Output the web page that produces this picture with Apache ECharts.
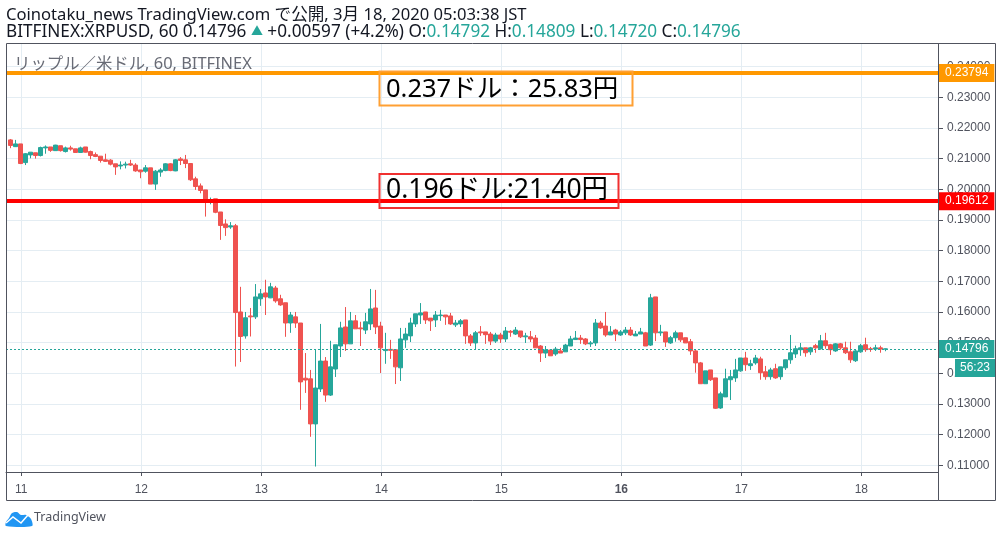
<!DOCTYPE html>
<html><head><meta charset="utf-8">
<script src="https://cdn.jsdelivr.net/npm/echarts@6/dist/echarts.min.js"></script>
<style>html,body{margin:0;padding:0;background:#fff}#c{width:1002px;height:537px}</style>
</head><body><div id="c"></div>
<script>
const opens=[.2161,.2139,.2148,.2087,.2112,.2119,.2110,.2135,.2138,.2126,
.2142,.2123,.2135,.2132,.2120,.2138,.2123,.2113,.2108,.2096,
.2095,.2083,.2076,.2079,.2083,.2079,.2063,.2059,.2070,.2017,
.2056,.2061,.2083,.2060,.2099,.2096,.2084,.2034,.2011,.1998,
.1958,.1969,.1926,.1887,.1877,.1881,.1600,.1522,.1587,.1584,
.1643,.1662,.1646,.1678,.1643,.1630,.1564,.1584,.1564,.1384,
.1382,.1235,.1349,.1440,.1329,.1414,.1489,.1551,.1496,.1571,
.1548,.1541,.1561,.1613,.1554,.1474,.1478,.1477,.1418,.1509,
.1522,.1561,.1590,.1600,.1580,.1574,.1588,.1590,.1587,.1558,
.1561,.1574,.1522,.1499,.1535,.1535,.1528,.1505,.1525,.1512,
.1537,.1528,.1538,.1519,.1519,.1515,.1489,.1466,.1476,.1463,
.1473,.1470,.1489,.1510,.1515,.1512,.1496,.1499,.1564,.1554,
.1525,.1541,.1525,.1532,.1541,.1522,.1528,.1532,.1492,.1649,
.1532,.1535,.1499,.1516,.1532,.1516,.1503,.1473,.1434,.1366,
.1411,.1385,.1287,.1323,.1379,.1385,.1408,.1450,.1425,.1434,
.1447,.1405,.1389,.1415,.1389,.1418,.1444,.1463,.1477,.1483,
.1470,.1490,.1480,.1506,.1493,.1473,.1496,.1483,.1470,.1441,
.1470,.1493,.1480,.1479,.1483,.14792];
const closes=[.2143,.2148,.2084,.2116,.2121,.2110,.2136,.2138,.2127,.2144,
.2126,.2135,.2131,.2120,.2135,.2121,.2110,.2107,.2094,.2091,
.2082,.2073,.2079,.2082,.2079,.2060,.2057,.2070,.2017,.2059,
.2063,.2083,.2061,.2096,.2094,.2084,.2031,.2009,.1996,.1961,
.1965,.1925,.1882,.1875,.1881,.1598,.1520,.1581,.1584,.1649,
.1659,.1649,.1682,.1636,.1623,.1564,.1590,.1564,.1372,.1378,
.1235,.1352,.1440,.1329,.1421,.1493,.1548,.1496,.1571,.1545,
.1545,.1568,.1610,.1551,.1483,.1477,.1475,.1421,.1512,.1528,
.1564,.1594,.1597,.1574,.1571,.1590,.1590,.1584,.1561,.1564,
.1571,.1522,.1499,.1532,.1532,.1526,.1505,.1525,.1512,.1538,
.1534,.1541,.1519,.1522,.1512,.1483,.1466,.1476,.1457,.1479,
.1466,.1492,.1512,.1515,.1510,.1496,.1499,.1564,.1548,.1525,
.1535,.1528,.1535,.1541,.1525,.1528,.1535,.1489,.1646,.1532,
.1535,.1502,.1516,.1532,.1509,.1499,.1473,.1434,.1366,.1408,
.1379,.1286,.1333,.1382,.1389,.1411,.1450,.1428,.1431,.1450,
.1402,.1389,.1411,.1385,.1421,.1444,.1467,.1480,.1483,.1467,
.1483,.1483,.1506,.1490,.1477,.1496,.1483,.1467,.1444,.1473,
.1490,.1477,.1478,.1483,.1479,.14796];
const lows=[.2134,.2138,.2082,.2079,.2101,.2100,.2107,.2116,.2122,.2125,
.2123,.2120,.2126,.2120,.2119,.2120,.2098,.2105,.2087,.2089,
.2078,.2047,.2065,.2068,.2076,.2057,.2036,.2054,.2017,.1998,
.2041,.2059,.2059,.2059,.2079,.2069,.2027,.1998,.1987,.1911,
.1951,.1922,.1835,.1848,.1871,.1422,.1437,.1513,.1520,.1577,
.1620,.1590,.1645,.1630,.1620,.1519,.1532,.1548,.1281,.1336,
.1193,.1096,.1339,.1307,.1326,.1388,.1453,.1473,.1496,.1545,
.1489,.1528,.1541,.1528,.1401,.1431,.1447,.1365,.1375,.1483,
.1502,.1551,.1561,.1561,.1538,.1551,.1571,.1558,.1558,.1551,
.1551,.1496,.1489,.1478,.1522,.1496,.1492,.1499,.1499,.1502,
.1519,.1525,.1515,.1499,.1502,.1483,.1437,.1450,.1457,.1457,
.1466,.1470,.1489,.1509,.1496,.1492,.1486,.1489,.1545,.1519,
.1525,.1505,.1522,.1525,.1522,.1522,.1528,.1489,.1489,.1505,
.1522,.1486,.1496,.1503,.1502,.1499,.1460,.1402,.1366,.1366,
.1375,.1284,.1284,.1323,.1313,.1372,.1405,.1408,.1411,.1428,
.1379,.1379,.1379,.1382,.1379,.1411,.1431,.1450,.1457,.1454,
.1460,.1467,.1477,.1480,.1460,.1470,.1477,.1463,.1434,.1437,
.1467,.1470,.1470,.1473,.1467,.14720];
const highs=[.2164,.2161,.2148,.2118,.2121,.2119,.2139,.2143,.2138,.2145,
.2142,.2139,.2142,.2132,.2139,.2138,.2126,.2120,.2108,.2116,
.2098,.2083,.2091,.2090,.2096,.2085,.2063,.2079,.2070,.2063,
.2069,.2085,.2085,.2098,.2105,.2112,.2085,.2041,.2019,.1998,
.1973,.1969,.1926,.1902,.1893,.1887,.1682,.1600,.1613,.1691,
.1675,.1705,.1695,.1685,.1656,.1630,.1600,.1600,.1564,.1466,
.1411,.1478,.1561,.1453,.1506,.1493,.1568,.1616,.1600,.1590,
.1568,.1597,.1675,.1672,.1568,.1532,.1509,.1477,.1548,.1548,
.1581,.1594,.1629,.1600,.1580,.1603,.1607,.1590,.1597,.1574,
.1577,.1574,.1528,.1538,.1554,.1535,.1535,.1532,.1532,.1551,
.1541,.1551,.1538,.1532,.1538,.1525,.1492,.1489,.1476,.1486,
.1483,.1496,.1522,.1538,.1525,.1515,.1505,.1577,.1571,.1600,
.1554,.1545,.1541,.1551,.1551,.1538,.1548,.1535,.1659,.1649,
.1558,.1535,.1522,.1539,.1532,.1516,.1512,.1477,.1437,.1408,
.1411,.1385,.1340,.1415,.1411,.1447,.1450,.1470,.1444,.1460,
.1454,.1424,.1418,.1431,.1421,.1444,.1525,.1490,.1499,.1483,
.1486,.1496,.1525,.1532,.1496,.1498,.1499,.1503,.1503,.1477,
.1496,.1516,.1486,.1493,.1490,.14809];
const dayLabels=['11','12','13','14','15','16','17','18'];
const priceTicks=[0.11,0.12,0.13,0.14,0.15,0.16,0.17,0.18,0.19,0.20,0.21,0.22,0.23,0.24];
const resistanceOrange=0.23794, resistanceRed=0.19612, lastPrice=0.14796;

const UP='#26a69a', DOWN='#ef5350', GRID='#e4edf3', AX='#50535e';
const UI='"Noto Sans","Noto Sans CJK JP",sans-serif';
const NUM='"Liberation Sans",Arial,sans-serif';
const dayPos=dayLabels.map((_,k)=>2.2+24*k);
const rows=opens.map((o,i)=>[i,o,closes[i],lows[i],highs[i]]);
const tag=(bg)=>({show:true,position:'end',distance:0,formatter:p=>Number(p.value).toFixed(5),
  color:'#fff',backgroundColor:bg,fontFamily:NUM,fontSize:12,padding:[3,6,3,7],lineHeight:12});

const chart=echarts.init(document.getElementById('c'),null,{renderer:'canvas'});
chart.setOption({
 animation:false,
 grid:{left:6,top:44,width:932,height:428,show:false},
 xAxis:{type:'value',min:-0.86,max:185.54,
  axisLine:{show:true,onZero:false,lineStyle:{color:AX}},
  axisTick:{show:true,customValues:dayPos,length:4,lineStyle:{color:AX}},
  axisLabel:{show:true,customValues:dayPos,margin:12,fontFamily:NUM,fontSize:12,color:AX,
    formatter:v=>{const d=dayLabels[Math.round((v-2.2)/24)];return d==='16'?'{b|'+d+'}':d;},
    rich:{b:{fontWeight:'bold',fontFamily:NUM,fontSize:12,color:AX}}},
  splitLine:{show:true,lineStyle:{color:GRID,width:1}}},
 yAxis:{type:'value',position:'right',min:0.10782,max:0.24737,
  axisLine:{show:true,onZero:false,lineStyle:{color:AX}},
  axisTick:{show:true,customValues:priceTicks,length:5,lineStyle:{color:AX}},
  axisLabel:{show:true,customValues:priceTicks,margin:9,fontFamily:NUM,fontSize:12,color:AX,formatter:v=>v.toFixed(5)},
  splitLine:{show:true,lineStyle:{color:GRID,width:1}}},
 series:[{type:'candlestick',data:rows,encode:{x:0,y:[1,2,3,4]},barWidth:4,
  itemStyle:{color:UP,color0:DOWN,borderColor:UP,borderColor0:DOWN,borderWidth:1},
  markLine:{silent:true,symbol:'none',precision:5,data:[
   {yAxis:lastPrice,lineStyle:{color:UP,width:1,type:[2,2]},label:tag(UP)},
   {yAxis:resistanceRed,lineStyle:{color:'#ff0000',width:4,type:'solid'},label:tag('#ff0000')},
   {yAxis:resistanceOrange,lineStyle:{color:'#ff9800',width:4,type:'solid'},label:tag('#ff9800')}
  ]}}],
 graphic:{elements:[
  {type:'rect',z:50,shape:{x:938.5,y:43.5,width:57,height:457},style:{fill:'none',stroke:AX,lineWidth:1}},
  {type:'rect',z:50,shape:{x:6.5,y:43.5,width:932,height:457},style:{fill:'none',stroke:AX,lineWidth:1}},
  {type:'rect',z:60,shape:{x:955,y:359,width:40,height:18},style:{fill:UP}},
  {type:'text',z:61,x:975,y:368,style:{text:'56:23',fill:'#fff',font:'12px '+NUM,align:'center',verticalAlign:'middle'}},
  {type:'text',z:40,x:6,y:7,style:{fill:'#131722',font:'16.6px '+UI,
    text:'Coinotaku_news TradingView.com で公開, 3月 18, 2020 05:03:38 JST'}},
  {type:'text',z:40,x:6,y:24,style:{fill:'#131722',font:'17.2px '+UI,
    text:'BITFINEX:XRPUSD, 60 0.14796 {u|▲} +0.00597 (+4.2%) O:{g|0.14792} H:{g|0.14809} L:{g|0.14720} C:{g|0.14796}',
    rich:{g:{fill:UP,font:'17.2px '+UI},u:{fill:UP,font:'12px '+UI}}}},
  {type:'text',z:40,x:14,y:56,style:{fill:'#686b75',font:'16.4px '+UI,text:'リップル／米ドル, 60, BITFINEX'}},
  {type:'rect',z:45,shape:{x:379.5,y:71.5,width:253,height:34},style:{fill:'none',stroke:'#ffa033',lineWidth:2}},
  {type:'text',z:46,x:386,y:77,style:{fill:'#000',font:'25.5px '+UI,text:'0.237ドル：25.83円'}},
  {type:'rect',z:45,shape:{x:379.5,y:174,width:239,height:34},style:{fill:'none',stroke:'#f03030',lineWidth:2}},
  {type:'text',z:46,x:386,y:177,style:{fill:'#000',font:'26.5px '+UI,text:'0.196ドル:21.40円'}},
  {type:'polygon',z:40,shape:{smooth:0.3,points:[[6,526],[6,522],[9,518],[12,513],[17,512],[21,515],[26,515],[31,519],[32,526]]},style:{fill:'#2196f3'}},
  {type:'polyline',z:41,shape:{points:[[6,523],[13,517],[21,523],[28,515]]},style:{fill:'none',stroke:'#fff',lineWidth:1.5}},
  {type:'text',z:40,x:34,y:511,style:{fill:'#50535e',font:'12.5px '+UI,text:'TradingView'}}
 ]}
});
</script></body></html>
